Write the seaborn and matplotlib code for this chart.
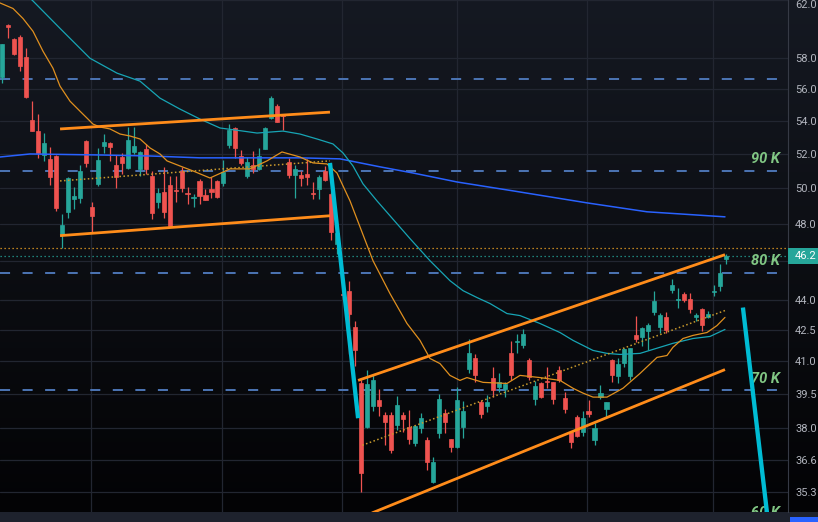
import numpy as np
import matplotlib
matplotlib.use("Agg")
import matplotlib.pyplot as plt
import matplotlib.transforms as mtransforms
from matplotlib.colors import LinearSegmentedColormap
from matplotlib.ticker import FixedLocator, FixedFormatter, NullLocator
import seaborn as sns

# ---------------- data (prices) ----------------
opens = [56.76, 60.23, 59.27, 59.41, 58.07, 54.04, 53.36, 51.92, 51.69, 51.86,
         47.45, 48.65, 49.37, 49.43, 52.76, 48.93, 50.23, 52.46, 52.64, 51.33,
         51.80, 51.16, 52.10, 51.10, 52.28, 50.69, 49.21, 49.77, 50.17, 49.89,
         50.98, 49.71, 49.40, 50.40, 49.60, 49.94, 50.40, 50.29, 52.52, 53.55,
         51.86, 50.69, 51.33, 51.10, 52.28, 54.16, 54.90, 54.41, 51.51, 50.75,
         50.75, 50.81, 49.71, 49.94, 50.98, 49.66, 46.91, 44.27, 44.45, 42.62,
         39.97, 38.02, 38.94, 39.21, 38.54, 38.54, 38.11, 38.54, 38.02, 37.33,
         37.97, 37.46, 35.71, 37.76, 38.63, 37.50, 37.16, 38.02, 40.66, 41.13,
         39.12, 38.94, 40.20, 39.80, 39.70, 41.41, 41.92, 41.75, 41.08, 39.26,
         39.97, 40.09, 40.02, 40.61, 39.30, 37.80, 38.46, 37.80, 38.72, 37.46,
         39.35, 38.81, 41.08, 40.29, 40.94, 40.29, 42.23, 42.13, 42.42, 43.40,
         42.62, 43.11, 44.50, 43.97, 44.30, 44.05, 43.11, 43.55, 43.11, 44.37,
         44.71, 46.11]
highs = [58.98, 60.30, 59.34, 59.55, 58.67, 55.22, 54.41, 53.24, 52.40, 51.92,
         48.54, 50.63, 50.06, 51.33, 52.82, 49.21, 52.34, 53.18, 52.70, 51.92,
         52.04, 53.61, 53.61, 52.14, 52.58, 50.98, 50.00, 51.22, 50.69, 50.69,
         51.22, 50.06, 49.66, 50.52, 49.94, 50.63, 50.46, 51.63, 53.79, 53.61,
         52.22, 51.80, 52.16, 52.34, 53.61, 55.54, 55.03, 54.43, 51.75, 51.33,
         50.98, 51.69, 50.34, 50.75, 51.27, 49.77, 47.53, 45.01, 44.96, 42.91,
         40.15, 40.57, 40.34, 39.70, 38.67, 38.67, 39.39, 38.67, 38.76, 38.11,
         38.63, 37.59, 36.74, 39.48, 38.81, 37.52, 39.80, 39.17, 42.04, 41.32,
         39.21, 39.44, 40.71, 40.43, 40.02, 41.94, 42.28, 42.52, 41.13, 40.06,
         40.02, 40.71, 40.04, 40.80, 39.57, 37.82, 38.54, 38.72, 39.21, 38.19,
         39.89, 39.14, 41.10, 41.13, 41.61, 41.63, 43.20, 42.62, 42.81, 44.45,
         43.35, 43.40, 45.06, 44.61, 44.37, 44.35, 43.35, 43.60, 43.45, 44.76,
         45.84, 46.37]
lows = [56.37, 59.34, 58.20, 57.15, 55.40, 53.34, 51.75, 51.57, 50.17, 48.71,
        46.69, 48.32, 48.82, 49.15, 51.22, 47.56, 50.11, 52.04, 51.57, 50.00,
        50.81, 51.10, 51.98, 50.69, 50.81, 48.26, 48.87, 48.32, 47.85, 49.21,
        49.77, 49.10, 48.93, 49.10, 49.29, 49.43, 49.43, 50.11, 52.34, 51.75,
        51.33, 50.57, 50.86, 51.04, 52.25, 54.10, 53.90, 53.42, 50.57, 49.43,
        50.11, 50.17, 49.37, 49.37, 50.40, 47.12, 46.37, 44.00, 41.32, 40.80,
        35.30, 37.98, 38.72, 38.49, 37.24, 36.90, 37.89, 37.80, 37.29, 37.20,
        37.76, 36.20, 35.67, 37.54, 37.76, 36.95, 37.14, 37.54, 40.43, 40.02,
        38.41, 38.67, 39.35, 39.57, 39.35, 40.15, 41.41, 41.61, 40.15, 38.99,
        39.30, 39.75, 39.03, 40.02, 38.63, 37.11, 37.60, 37.63, 38.46, 37.24,
        39.26, 38.41, 40.02, 39.97, 40.75, 40.15, 41.89, 41.70, 41.51, 43.25,
        42.33, 42.33, 44.35, 43.60, 43.90, 43.35, 42.91, 42.42, 43.09, 44.20,
        44.45, 45.84]
closes = [58.94, 60.09, 58.27, 57.47, 55.48, 53.36, 52.04, 52.64, 50.63, 48.87,
          47.93, 50.57, 49.54, 50.98, 51.45, 48.43, 51.63, 52.70, 52.40, 50.63,
          51.45, 52.82, 52.46, 52.10, 51.10, 48.60, 49.71, 48.65, 47.88, 49.83,
          50.00, 49.66, 49.46, 49.54, 49.32, 49.77, 49.49, 50.92, 53.42, 52.34,
          51.45, 51.51, 51.10, 51.86, 53.55, 55.41, 53.92, 54.28, 50.75, 51.10,
          50.57, 50.63, 49.66, 50.63, 50.46, 47.56, 47.50, 44.22, 43.30, 41.51,
          36.08, 39.93, 40.11, 38.94, 38.23, 37.03, 38.99, 38.37, 37.50, 38.06,
          38.41, 36.53, 36.53, 39.26, 38.23, 37.16, 39.21, 38.72, 41.41, 40.34,
          38.59, 39.12, 39.66, 40.02, 39.93, 40.34, 41.97, 42.28, 40.26, 39.84,
          39.35, 40.04, 39.26, 40.11, 38.81, 37.37, 37.63, 38.41, 38.59, 37.97,
          39.53, 39.12, 40.38, 40.89, 41.56, 41.61, 42.08, 42.57, 42.76, 43.95,
          43.25, 42.47, 44.76, 44.02, 43.97, 43.55, 43.25, 42.76, 43.30, 44.42,
          45.38, 46.24]

# moving averages (bar index, value)
ma_fast_idx = [-0.33, 1.84, 3.51, 5.18, 6.85, 8.52, 9.69, 11.36, 13.03, 14.2, 15.2,
               16.37, 18.05, 19.72, 21.39, 23.06, 24.73, 26.4, 27.57, 29.74, 31.91,
               33.08, 34.75, 38.1, 41.44, 44.28, 46.78, 49.79, 51.96, 54.3, 55.97,
               58.15, 61.99, 64.83, 67.67, 69.84, 71.51, 73.18, 74.85, 76.52, 77.69,
               80.37, 84.38, 86.55, 89.89, 93.23, 95.41, 97.08, 98.75, 101.09,
               103.76, 106.6, 109.44, 111.11, 112.11, 113.78, 115.45, 117.79,
               119.47, 120.8]
ma_fast_val = [61.79, 61.40, 60.70, 59.82, 58.47, 57.34, 56.18, 55.22, 54.59, 54.16,
               53.79, 53.61, 53.49, 53.18, 53.06, 52.88, 52.34, 51.98, 51.57, 51.27,
               50.98, 50.81, 50.57, 51.10, 51.10, 51.57, 52.10, 51.80, 51.45, 51.39,
               50.86, 49.26, 46.00, 44.30, 42.81, 41.99, 41.13, 40.89, 40.34, 40.11,
               40.24, 40.02, 39.97, 40.34, 40.24, 40.11, 39.75, 39.53, 39.35, 39.35,
               39.75, 40.43, 41.18, 41.27, 41.66, 42.08, 42.23, 42.37, 42.71, 43.11]
ma_mid_idx = [3.84, 5.18, 9.69, 14.7, 19.21, 23.06, 26.4, 29.74, 33.08, 36.42, 40.27,
              42.61, 46.95, 49.79, 52.63, 55.3, 56.98, 58.65, 60.32, 62.66, 64.83,
              68.17, 71.51, 74.85, 77.03, 79.37, 81.54, 84.38, 86.55, 89.89, 93.23,
              95.41, 98.75, 101.09, 103.26, 106.6, 109.94, 112.11, 115.45, 118.3,
              120.8]
ma_mid_val = [62.47, 61.93, 60.02, 58.00, 57.02, 56.50, 55.41, 54.72, 54.10, 53.55,
              53.36, 53.24, 53.36, 53.18, 52.88, 52.58, 52.04, 51.27, 50.23, 49.26,
              48.43, 47.18, 46.00, 44.96, 44.45, 44.10, 43.80, 43.30, 43.20, 42.81,
              42.37, 41.99, 41.51, 41.37, 41.32, 41.37, 41.66, 41.85, 42.08, 42.18,
              42.52]
ma_slow_idx = [-0.33, 4.68, 16.37, 24.73, 33.08, 49.79, 56.47, 63.16, 68.67, 76.02,
               85.38, 97.74, 107.77, 120.8]
ma_slow_val = [51.80, 51.98, 51.92, 51.86, 51.75, 51.75, 51.69, 51.22, 50.86, 50.34,
               49.83, 49.15, 48.65, 48.37]

# drawn objects (start/end bar index and price)
channel_idx = [[9.7, 54.8], [9.7, 54.8], [59.5, 120.8], [61.8, 120.8]]
channel_val = [[53.49, 54.53], [47.34, 48.43], [40.11, 46.32], [34.46, 40.61]]
mid_trend_idx = [[9.7, 54.8], [60.2, 120.8]]
mid_trend_val = [[50.40, 51.57], [37.24, 43.45]]
arrow_idx = [[54.8, 59.5], [123.8, 128.0]]
arrow_val = [[51.45, 38.41], [43.60, 34.11]]

level_prices = [56.65, 50.97, 45.37, 39.65, 33.99]
level_labels = ["", "90 K", "80 K", "70 K", "60 K"]
alt_price_line = 46.69

price_ticks = [62.0, 58.0, 56.0, 54.0, 52.0, 50.0, 48.0, 46.0, 44.0, 42.5, 41.0,
               39.5, 38.0, 36.6, 35.3]
time_grid = [14.87, 36.76, 56.8, 76.02, 97.74, 118.8]

# ---------------- style ----------------
sns.set_style("dark")
plt.rcParams['font.family'] = ['Roboto', 'DejaVu Sans']

UP, DOWN = '#26a69a', '#ef5350'
W, H = 818, 522

fig = plt.figure(figsize=(W / 100, H / 100), dpi=100, facecolor='#1e222d')
plot_bottom = 10 / H
plot_h = 512 / H

bg = fig.add_axes([0, plot_bottom, 1, plot_h])
grad = np.linspace(0, 1, 256).reshape(-1, 1)
cmap = LinearSegmentedColormap.from_list('bg', ['#030305', '#0c0e13', '#151922'])
bg.imshow(grad, aspect='auto', cmap=cmap, origin='lower', extent=[0, 1, 0, 1])
bg.set_axis_off()

ax = fig.add_axes([0, plot_bottom, 788 / W, plot_h])
ax.set_facecolor('none')
ax.set_yscale('log')
ax.set_ylim(34.50, 62.0)
ax.set_xlim(-0.334, 131.33)

# grid
ax.yaxis.set_major_locator(FixedLocator(price_ticks))
ax.yaxis.set_minor_locator(NullLocator())
ax.yaxis.set_major_formatter(FixedFormatter(
    ["" if abs(t - 46.0) < 1e-6 else f"{t:.1f}" for t in price_ticks]))
ax.xaxis.set_major_locator(FixedLocator(time_grid))
ax.xaxis.set_minor_locator(NullLocator())
ax.set_xticklabels([])
ax.grid(True, color='#222631', lw=0.9, zorder=0)
ax.yaxis.tick_right()
ax.tick_params(axis='y', length=0, pad=5.2, labelcolor='#b2b5be', labelsize=8)
ax.tick_params(axis='x', length=0)
for s in ['top', 'left', 'bottom']:
    ax.spines[s].set_visible(False)
ax.spines['right'].set_color('#363a45')
ax.spines['right'].set_linewidth(0.8)

# keep the top price label inside the picture
for t, lab in zip(ax.yaxis.get_major_ticks(), price_ticks):
    if lab == max(price_ticks):
        t.label2.set_verticalalignment('top')

# level lines
for p, lab in zip(level_prices, level_labels):
    ax.axhline(p, color='#4a72b0', lw=1.45, dashes=(5, 6.2), zorder=2)
    if lab:
        ax.annotate(lab, xy=(1.0, p), xycoords=ax.get_yaxis_transform(),
                    xytext=(-6, 8.5), textcoords='offset points', ha='right',
                    va='center', color='#81c784', fontsize=10.5,
                    fontweight='bold', fontstyle='italic', zorder=6,
                    annotation_clip=False, clip_on=True)

# current price lines
ax.axhline(alt_price_line, color='#f5a623', lw=0.9, ls=(0, (1, 2.2)), zorder=2)
ax.axhline(closes[-1], color='#26a69a', lw=0.9, ls=(0, (1, 2.2)), zorder=2)

# candles
o = np.array(opens); h = np.array(highs); l = np.array(lows); c = np.array(closes)
idx = np.arange(len(o))
cols = np.where(c >= o, UP, DOWN)
ax.vlines(idx, l, h, colors=cols, lw=0.9, zorder=3)
ax.bar(idx, np.abs(c - o), bottom=np.minimum(o, c), width=0.68, color=cols,
       edgecolor=cols, lw=0.5, zorder=4)

# moving averages
sns.lineplot(x=ma_slow_idx, y=ma_slow_val, ax=ax, color='#2962ff', lw=1.1,
             sort=False, estimator=None, legend=False, zorder=5)
sns.lineplot(x=ma_mid_idx, y=ma_mid_val, ax=ax, color='#17a5b5', lw=0.9,
             sort=False, estimator=None, legend=False, zorder=5)
sns.lineplot(x=ma_fast_idx, y=ma_fast_val, ax=ax, color='#e0901f', lw=0.9,
             sort=False, estimator=None, legend=False, zorder=5)

# drawings
for xs, ys in zip(mid_trend_idx, mid_trend_val):
    ax.plot(xs, ys, color='#c99a2c', lw=1.1, ls=(0, (1, 1.6)), zorder=6)
for xs, ys in zip(channel_idx, channel_val):
    ax.plot(xs, ys, color='#ff8c1a', lw=2.0, solid_capstyle='butt', zorder=6)
for xs, ys in zip(arrow_idx, arrow_val):
    ax.plot(xs, ys, color='#00bcd4', lw=3.1, solid_capstyle='butt', zorder=7)

# last price badge
yc = ax.transData.transform((0, closes[-1]))[1]
xr = ax.transAxes.transform((1, 0))[0]
ident = mtransforms.IdentityTransform()
fig.add_artist(plt.Rectangle((xr, yc - 8), 40, 16, transform=ident,
                             facecolor=UP, edgecolor='none', zorder=10))
fig.text(xr + 7, yc, f"{closes[-1]:.1f}", transform=ident, ha='left', va='center',
         color='white', fontsize=8, zorder=11)

# bottom-right marker
fig.add_artist(plt.Rectangle((790 / W, 0), 30 / W, 5 / H, transform=fig.transFigure,
                             facecolor='#2962ff', edgecolor='none'))

fig.savefig('out.png', dpi=100, facecolor=fig.get_facecolor())
